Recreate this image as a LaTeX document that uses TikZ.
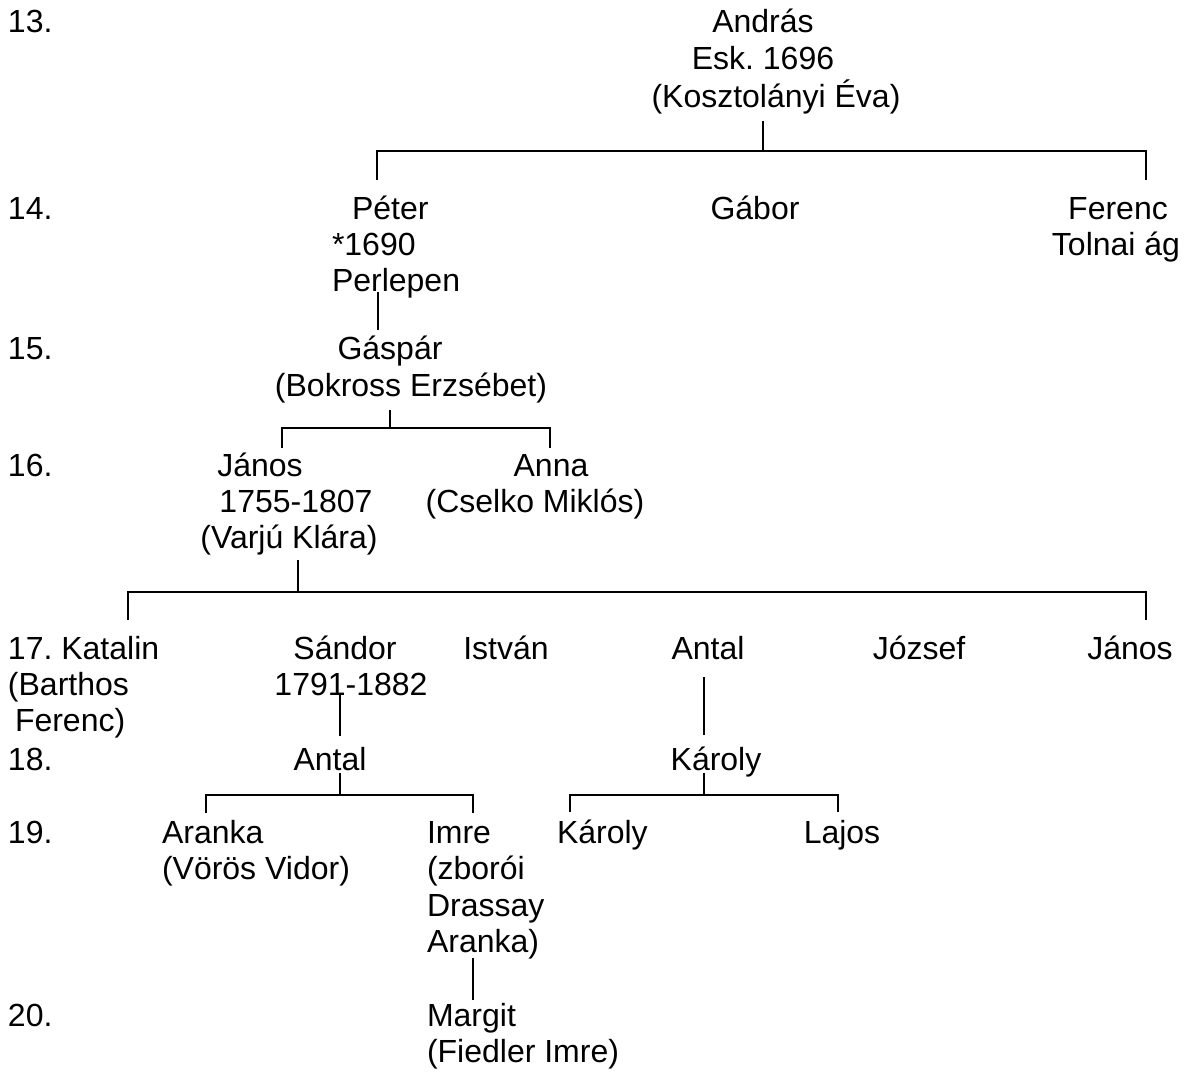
\documentclass[tikz,border=0pt]{standalone}
\usepackage{fontspec}
\setmainfont{Liberation Sans}
\begin{document}
\begin{tikzpicture}[x=1pt,y=-1pt,
  every node/.style={inner sep=0pt,outer sep=0pt,font=\fontsize{32}{36.8}\selectfont\frenchspacing},
  lt/.style={anchor=base west},
  ct/.style={anchor=base},
  link/.style={draw=black,line width=1.5pt}]
\useasboundingbox[fill=white] (0,0) rectangle (1191,1073);
% generation labels
\node[lt] (g13) at (8,33) {13.};
\node[lt] (g14) at (8,219) {14.};
\node[lt] (g15) at (8,359) {15.};
\node[lt] (g16) at (8,476) {16.};
\node[lt] (g18) at (8,770) {18.};
\node[lt] (g19) at (8,843) {19.};
\node[lt] (g20) at (8,1026) {20.};
% 13
\node[ct] (andras) at (763,33) {András};
\node[ct] (andras2) at (763,70) {Esk. 1696};
\node[ct] (andras3) at (776,107) {(Kosztolányi Éva)};
% 14
\node[lt] (peter) at (352,219) {Péter};
\node[lt] (peter2) at (332,255) {*1690};
\node[lt] (peter3) at (332,291) {Perlepen};
\node[ct] (gabor) at (755,219) {Gábor};
\node[ct] (ferenc) at (1118,219) {Ferenc};
\node[ct] (ferenc2) at (1116,255) {Tolnai ág};
% 15
\node[ct] (gaspar) at (390,359) {Gáspár};
\node[ct] (gaspar2) at (411,396) {(Bokross Erzsébet)};
% 16
\node[ct] (janos) at (260,476) {János};
\node[ct] (janos2) at (296,512) {1755-1807};
\node[ct] (janos3) at (289,548) {(Varjú Klára)};
\node[ct] (anna) at (551,476) {Anna};
\node[ct] (anna2) at (535,512) {(Cselko Miklós)};
% 17
\node[lt] (katalin) at (8,659) {17. Katalin};
\node[lt] (katalin2) at (8,695) {(Barthos};
\node[lt] (katalin3) at (15,731) {Ferenc)};
\node[ct] (sandor) at (345,659) {Sándor};
\node[ct] (sandor2) at (351,695) {1791-1882};
\node[ct] (istvan) at (506,659) {István};
\node[ct] (antal) at (708,659) {Antal};
\node[ct] (jozsef) at (919,659) {József};
\node[ct] (janosb) at (1130,659) {János};
% 18
\node[ct] (antalb) at (330,770) {Antal};
\node[ct] (karoly) at (716,770) {Károly};
% 19
\node[lt] (aranka) at (162,843) {Aranka};
\node[lt] (aranka2) at (162,879) {(Vörös Vidor)};
\node[lt] (imre) at (427,843) {Imre};
\node[lt] (imre2) at (427,879) {(zborói};
\node[lt] (imre3) at (427,916) {Drassay};
\node[lt] (imre4) at (427,952) {Aranka)};
\node[lt] (karolyb) at (557,843) {Károly};
\node[ct] (lajos) at (842,843) {Lajos};
% 20
\node[lt] (margit) at (427,1026) {Margit};
\node[lt] (margit2) at (427,1062) {(Fiedler Imre)};
% connector points
\coordinate (a0) at (763,121); \coordinate (a1) at (763,151);
\coordinate (aL) at (377,180); \coordinate (aR) at (1146,151); \coordinate (aRe) at (1146,180);
\coordinate (p0) at (378,292); \coordinate (p1) at (378,330);
\coordinate (g0) at (390,410); \coordinate (g1) at (390,428);
\coordinate (gL) at (282,448); \coordinate (gR) at (550,428); \coordinate (gRe) at (550,448);
\coordinate (j0) at (298,560); \coordinate (j1) at (298,592);
\coordinate (jL) at (128,620); \coordinate (jR) at (1146,592); \coordinate (jRe) at (1146,620);
\coordinate (s0) at (340,693); \coordinate (s1) at (340,736);
\coordinate (t0) at (704,677); \coordinate (t1) at (704,735);
\coordinate (b0) at (340,773); \coordinate (b1) at (340,795);
\coordinate (bL) at (206,813); \coordinate (bR) at (473,795); \coordinate (bRe) at (473,813);
\coordinate (k0) at (704,773); \coordinate (k1) at (704,795);
\coordinate (kL) at (570,812); \coordinate (kR) at (838,795); \coordinate (kRe) at (838,812);
\coordinate (m0) at (473,958); \coordinate (m1) at (473,1000);
% connectors
\draw[link] (a0) -- (a1);
\draw[link] (aL) |- (aR) -- (aRe);
\draw[link] (p0) -- (p1);
\draw[link] (g0) -- (g1);
\draw[link] (gL) |- (gR) -- (gRe);
\draw[link] (j0) -- (j1);
\draw[link] (jL) |- (jR) -- (jRe);
\draw[link] (s0) -- (s1);
\draw[link] (t0) -- (t1);
\draw[link] (b0) -- (b1);
\draw[link] (bL) |- (bR) -- (bRe);
\draw[link] (k0) -- (k1);
\draw[link] (kL) |- (kR) -- (kRe);
\draw[link] (m0) -- (m1);
\end{tikzpicture}
\end{document}
